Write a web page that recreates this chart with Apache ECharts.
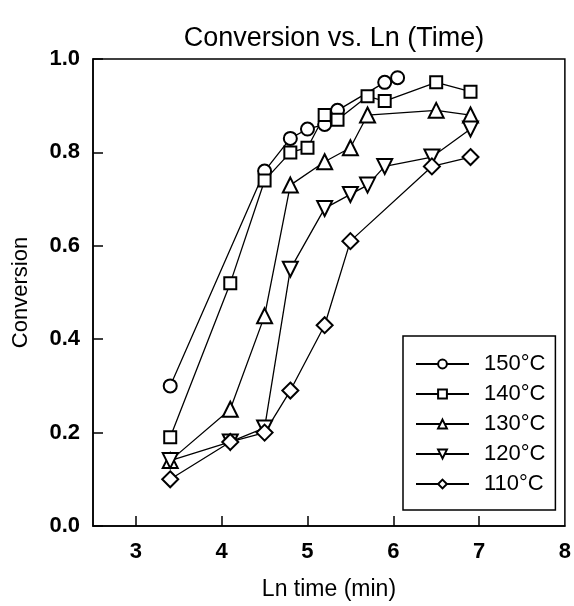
<!DOCTYPE html>
<html>
<head>
<meta charset="utf-8">
<script src="https://cdn.jsdelivr.net/npm/echarts@6/dist/echarts.min.js"></script>
<style>
    html, body { margin: 0; padding: 0; background: #fff; }
    #myChart { width: 574px; height: 606px; }
</style>
</head>
<body>
<div id="myChart"></div>
<script>
var seriesNames = ['150°C', '140°C', '130°C', '120°C', '110°C'];

var lnTime150 = [3.4, 4.5, 4.8, 5.0, 5.2, 5.35, 5.9, 6.05];
var conv150 = [0.30, 0.76, 0.83, 0.85, 0.86, 0.89, 0.95, 0.96];

var lnTime140 = [3.4, 4.1, 4.5, 4.8, 5.0, 5.2, 5.35, 5.7, 5.9, 6.5, 6.9];
var conv140 = [0.19, 0.52, 0.74, 0.80, 0.81, 0.88, 0.87, 0.92, 0.91, 0.95, 0.93];

var lnTime130 = [3.4, 4.1, 4.5, 4.8, 5.2, 5.5, 5.7, 6.5, 6.9];
var conv130 = [0.14, 0.25, 0.45, 0.73, 0.78, 0.81, 0.88, 0.89, 0.88];

var lnTime120 = [3.4, 4.1, 4.5, 4.8, 5.2, 5.5, 5.7, 5.9, 6.45, 6.9];
var conv120 = [0.14, 0.18, 0.21, 0.55, 0.68, 0.71, 0.73, 0.77, 0.79, 0.85];

var lnTime110 = [3.4, 4.1, 4.5, 4.8, 5.2, 5.5, 6.45, 6.9];
var conv110 = [0.10, 0.18, 0.20, 0.29, 0.43, 0.61, 0.77, 0.79];

var xTickLabels = [3, 4, 5, 6, 7, 8];
var yTickLabels = [0.0, 0.2, 0.4, 0.6, 0.8, 1.0];

var FONT = '"Liberation Sans", Arial, sans-serif';

function toPairs(xs, ys) {
    return xs.map(function (x, i) {
        return [x, ys[i]];
    });
}

function makeSeries(name, xs, ys, symbol, size, rotate) {
    return {
        name: name,
        type: 'line',
        data: toPairs(xs, ys),
        symbol: symbol,
        symbolSize: size,
        symbolRotate: rotate || 0,
        showAllSymbol: true,
        lineStyle: {color: '#000', width: 1.3},
        // empty* symbols are stroked with color and filled white
        itemStyle: {color: '#000', borderWidth: 1.3},
        z: 2
    };
}

var myChart = echarts.init(document.getElementById('myChart'));

var option = {
    backgroundColor: '#fff',
    animation: false,
    title: {
        text: 'Conversion vs. Ln (Time)',
        left: 329,
        top: 20,
        textAlign: 'center',
        textStyle: {fontFamily: FONT, fontSize: 27, fontWeight: 'normal', color: '#000'}
    },
    legend: {
        orient: 'vertical',
        left: 403,
        top: 336,
        width: 154,
        data: seriesNames,
        backgroundColor: '#fff',
        borderColor: '#000',
        borderWidth: 1.5,
        padding: [17, 10, 15, 12],
        itemWidth: 53,
        itemHeight: 11,
        itemGap: 8,
        textStyle: {fontFamily: FONT, fontSize: 22, color: '#000', lineHeight: 22, padding: [0, 0, 0, 10]}
    },
    grid: {
        left: 93,
        right: 8,
        top: 59,
        bottom: 78,
        show: true,
        borderColor: '#000',
        borderWidth: 1.5
    },
    xAxis: {
        type: 'value',
        min: 2.5,
        max: 8,
        interval: 0.5,
        name: 'Ln time (min)',
        nameLocation: 'middle',
        nameGap: 52,
        nameTextStyle: {fontFamily: FONT, fontSize: 23, color: '#000'},
        axisLine: {show: true, onZero: false, lineStyle: {color: '#000', width: 1.5}},
        axisTick: {show: true, inside: true, length: 10, customValues: [3, 4, 5, 6, 7], lineStyle: {color: '#000', width: 1.5}},
        axisLabel: {
            customValues: xTickLabels,
            margin: 15,
            fontFamily: FONT, fontSize: 22, fontWeight: 'bold', color: '#000'
        },
        splitLine: {show: false}
    },
    yAxis: {
        type: 'value',
        min: 0,
        max: 1,
        interval: 0.2,
        name: 'Conversion',
        nameLocation: 'middle',
        nameGap: 61,
        nameTextStyle: {fontFamily: FONT, fontSize: 22, color: '#000'},
        axisLine: {show: true, lineStyle: {color: '#000', width: 1.5}},
        axisTick: {show: true, inside: true, length: 10, lineStyle: {color: '#000', width: 1.5}},
        axisLabel: {
            customValues: yTickLabels,
            margin: 13,
            fontFamily: FONT, fontSize: 22, fontWeight: 'bold', color: '#000',
            formatter: function (v) {
                return v.toFixed(1);
            }
        },
        splitLine: {show: false}
    },
    series: [
        makeSeries(seriesNames[0], lnTime150, conv150, 'emptyCircle', 13),
        makeSeries(seriesNames[1], lnTime140, conv140, 'emptyRect', 12),
        makeSeries(seriesNames[2], lnTime130, conv130, 'emptyTriangle', 15),
        makeSeries(seriesNames[3], lnTime120, conv120, 'emptyTriangle', 15, 180),
        makeSeries(seriesNames[4], lnTime110, conv110, 'emptyDiamond', 16)
    ]
};

myChart.setOption(option);
</script>
</body>
</html>
